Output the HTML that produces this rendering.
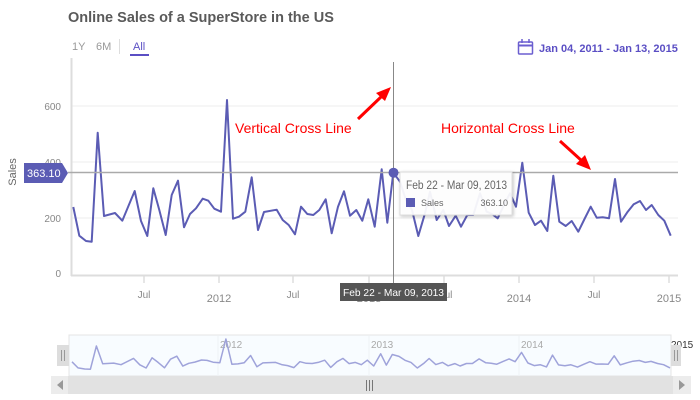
<!DOCTYPE html>
<html><head><meta charset="utf-8"><style>
body{margin:0;background:#fff;width:700px;height:400px;overflow:hidden;font-family:"Liberation Sans",sans-serif}
svg{display:block}
</style></head><body>
<svg id="s" width="700" height="400" viewBox="0 0 700 400" xmlns="http://www.w3.org/2000/svg">
<defs>
<filter id="sh" x="-10%" y="-10%" width="130%" height="140%"><feDropShadow dx="1" dy="1" stdDeviation="1.5" flood-color="#000" flood-opacity="0.25"/></filter>
</defs>
<text x="68" y="22" font-size="14.5" font-weight="bold" fill="#5a5a5a">Online Sales of a SuperStore in the US</text>
<text x="72" y="50" font-size="11" fill="#999">1Y</text>
<text x="96" y="50" font-size="11" fill="#999">6M</text>
<line x1="119.5" y1="39" x2="119.5" y2="54" stroke="#ddd"/>
<text x="133" y="50" font-size="11" fill="#5b4fc4">All</text>
<rect x="130" y="54" width="19" height="2" fill="#5b4fc4"/>
<g stroke="#6b5fd0" fill="none" stroke-width="1.5"><rect x="518.5" y="42" width="14" height="12" rx="1"/><line x1="518.5" y1="45.5" x2="532.5" y2="45.5" stroke-width="2"/><line x1="522" y1="39" x2="522" y2="43"/><line x1="529" y1="39" x2="529" y2="43"/></g>
<text x="539" y="52" font-size="11" font-weight="bold" fill="#5b4fc4">Jan 04, 2011 - Jan 13, 2015</text>
<g stroke="#eee"><line x1="72" y1="106" x2="678" y2="106"/><line x1="72" y1="162" x2="678" y2="162"/><line x1="72" y1="218" x2="678" y2="218"/></g>
<line x1="71.5" y1="58" x2="71.5" y2="276" stroke="#ddd" stroke-width="2"/>
<line x1="71" y1="275.5" x2="678" y2="275.5" stroke="#ddd" stroke-width="2"/>
<g stroke="#ddd" stroke-width="1.5"><line x1="144" y1="276" x2="144" y2="283"/><line x1="219" y1="276" x2="219" y2="283"/><line x1="293" y1="276" x2="293" y2="283"/><line x1="369" y1="276" x2="369" y2="283"/><line x1="444" y1="276" x2="444" y2="283"/><line x1="519" y1="276" x2="519" y2="283"/><line x1="594" y1="276" x2="594" y2="283"/><line x1="669" y1="276" x2="669" y2="283"/></g>
<g font-size="10" fill="#888" text-anchor="end"><text x="61" y="110">600</text><text x="61" y="166">400</text><text x="61" y="222">200</text><text x="61" y="277">0</text></g>
<text transform="translate(16,172) rotate(-90)" font-size="11" fill="#666" text-anchor="middle">Sales</text>
<g font-size="10" fill="#888" text-anchor="middle"><text x="144" y="298">Jul</text><text x="219" y="302" font-size="11">2012</text><text x="293" y="298">Jul</text><text x="369" y="302" font-size="11">2013</text><text x="446" y="298">Jul</text><text x="519" y="302" font-size="11">2014</text><text x="594" y="298">Jul</text><text x="669" y="302" font-size="11">2015</text></g>
<polyline id="main" fill="none" stroke="#5b5cb4" stroke-width="2" stroke-linejoin="round"/>
<line x1="68" y1="172.5" x2="678" y2="172.5" stroke="#aaa" stroke-width="1.5"/>
<line x1="393.5" y1="62" x2="393.5" y2="283" stroke="#888" stroke-width="1"/>
<path d="M24,163 H62 L68,173 L62,183 H24 Z" fill="#5b5cb4"/>
<text x="27" y="177" font-size="11" fill="#fff">363.10</text>
<circle cx="393.5" cy="172.7" r="5" fill="#5b5cb4"/>
<rect x="340" y="283" width="107" height="18" fill="#555"/>
<text x="343" y="296" font-size="10.5" fill="#fff" textLength="101" lengthAdjust="spacingAndGlyphs">Feb 22 - Mar 09, 2013</text>
<rect x="400" y="172" width="112" height="43" fill="#fff" fill-opacity="0.92" stroke="#ddd" filter="url(#sh)"/>
<text x="406" y="189" font-size="11.5" fill="#666" textLength="101" lengthAdjust="spacingAndGlyphs">Feb 22 - Mar 09, 2013</text>
<rect x="406" y="198" width="9" height="9" fill="#5b5cb4"/>
<text x="421" y="206" font-size="9" fill="#666">Sales</text>
<text x="508" y="206" font-size="9" fill="#666" text-anchor="end">363.10</text>
<text x="235" y="133" font-size="14" fill="#f00">Vertical Cross Line</text>
<text x="441" y="133" font-size="14" fill="#f00">Horizontal Cross Line</text>
<line x1="358" y1="119" x2="382" y2="96" stroke="#f00" stroke-width="3"/>
<polygon points="391,87 376,93 385,101" fill="#f00"/>
<line x1="560" y1="141" x2="582" y2="161" stroke="#f00" stroke-width="3"/>
<polygon points="591,170 576,164 585,155" fill="#f00"/>
<rect x="69" y="335" width="602" height="41" fill="#f8fcff" stroke="#e4e4e4"/>
<g stroke="#eef2f6"><line x1="218" y1="336" x2="218" y2="376"/><line x1="369" y1="336" x2="369" y2="376"/><line x1="519" y1="336" x2="519" y2="376"/></g>
<g font-size="10" fill="#aaa"><text x="220" y="348">2012</text><text x="371" y="348">2013</text><text x="521" y="348">2014</text></g>
<text x="671" y="348" font-size="10" fill="#333">2015</text>
<polyline id="nav" fill="none" stroke="#9fa3da" stroke-width="1.5" stroke-linejoin="round"/>
<rect x="57" y="345" width="12" height="21" fill="#ddd"/>
<g stroke="#999"><line x1="61.5" y1="350" x2="61.5" y2="361"/><line x1="64.5" y1="350" x2="64.5" y2="361"/></g>
<rect x="671" y="345" width="10" height="21" fill="#ddd"/>
<g stroke="#999"><line x1="674.5" y1="350" x2="674.5" y2="361"/><line x1="677.5" y1="350" x2="677.5" y2="361"/></g>
<rect x="51" y="376" width="640" height="18" fill="#e2e2e2"/>
<rect x="51" y="376" width="17" height="18" fill="#ececec"/>
<rect x="673" y="376" width="18" height="18" fill="#ececec"/>
<polygon points="63,380 57,385 63,390" fill="#999"/>
<polygon points="679,380 685,385 679,390" fill="#999"/>
<g stroke="#777"><line x1="366.5" y1="380" x2="366.5" y2="391"/><line x1="369.5" y1="380" x2="369.5" y2="391"/><line x1="372.5" y1="380" x2="372.5" y2="391"/></g>
</svg>
<script>
var p="73.3,207 79.3,235.7 86,241 91.7,241.7 97.7,132.7 104,216 115,213 122.3,220.7 134.7,191 141,221 147.3,236 153.3,188.3 159.3,210 165.7,235 171.7,195 178,180.7 184,227.3 190,214 196,208.3 202.7,198.7 208.3,200.7 214.3,208.7 221,211.7 227,100 233,218.7 239,216.7 245.3,211.7 251.7,177.3 258,230 264,212 276.7,209.7 282.7,220 288.7,225 295,234.3 301,206.7 307.3,214 313.3,215 319.3,210 325.7,199.3 331.7,233.3 338,206.7 344,191.3 350,215.7 356.3,210 362.3,220.7 368.3,199.3 374.7,226.7 381.7,169.3 387.3,222.7 393.3,172.7 400,181.7 406,200 412,210 418.3,236 425,213.3 430,191.7 436.7,220 443.3,210 449,226 455.7,215.7 461,226.7 467.3,215 473.3,215 480,193.3 486.7,211.7 492,214 497.7,218.3 504,205 510,193.3 516,206.7 522.3,162.7 528.7,212.7 535,225 541,220.7 547.3,231 553.3,175.7 559.3,221.7 565.7,226 571.7,221 578.3,231.7 584.5,219 590.7,206.7 596.7,217.7 602.7,217.3 609,218.3 615,179 621,221.7 627.7,211.7 633.7,204.3 640,201 646,210 651.7,205 658.3,215 664.3,220.7 670.7,235.7";
document.getElementById('main').setAttribute('points',p);
var n=p.split(' ').map(function(s){var a=s.split(',');var x=+a[0],y=+a[1];return (72+(x-73.3)*(670-72)/(670.7-73.3)).toFixed(1)+','+(339+(y-100)*0.213).toFixed(1);}).join(' ');
document.getElementById('nav').setAttribute('points',n);
</script>
</body></html>
